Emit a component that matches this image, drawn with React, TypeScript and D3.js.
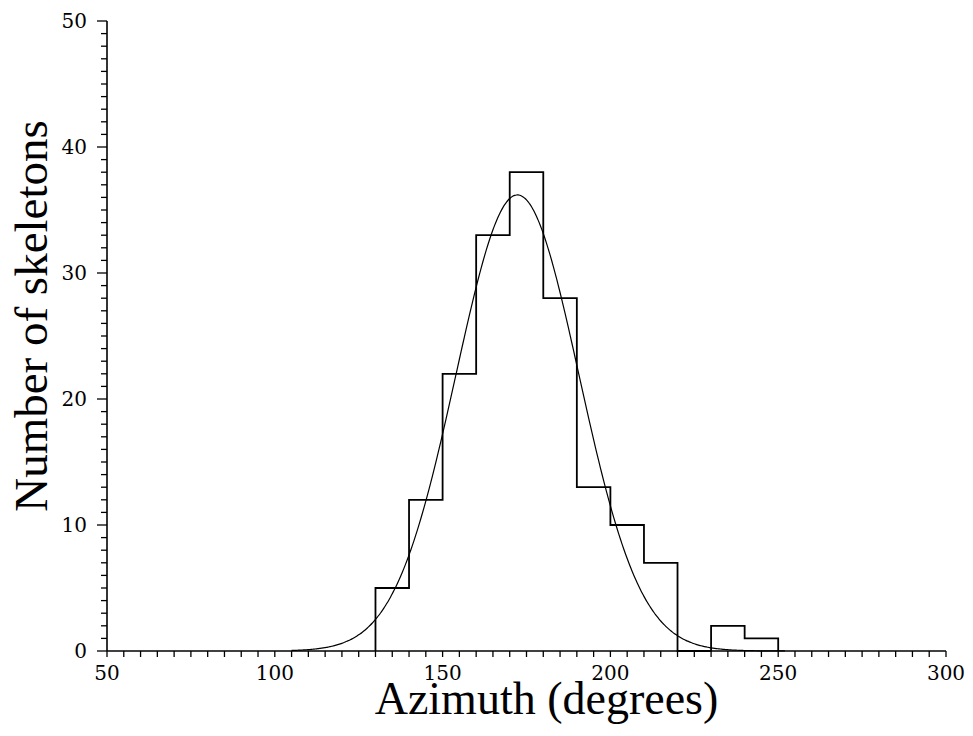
import React, { useEffect, useRef } from "react";
import * as d3 from "d3";

// Histogram bins (azimuth, degrees) and counts
const binStarts = [130, 140, 150, 160, 170, 180, 190, 200, 210, 220, 230, 240];
const binWidth = 10;
const counts = [5, 12, 22, 33, 38, 28, 13, 10, 7, 0, 2, 1];

// Fitted normal curve parameters
const fitMean = 172.3;
const fitSigma = 18.3;
const fitPeak = 36.2;
const fitRange = [105, 252];

const xTickLabels = [50, 100, 150, 200, 250, 300];
const yTickLabels = [0, 10, 20, 30, 40, 50];

const W = 973;
const H = 736;

export default function App() {
  const ref = useRef<SVGSVGElement | null>(null);

  useEffect(() => {
    const svg = d3.select(ref.current);
    svg.selectAll("*").remove();
    const x = d3.scaleLinear().domain([50, 300]).range([107, 946]);
    const y = d3.scaleLinear().domain([0, 50]).range([651, 21]);
    const titleFont = "'Liberation Serif', 'Times New Roman', serif";
    const tickFont = "'DejaVu Serif', serif";

    // X axis
    const gx = svg.append("g").attr("transform", `translate(0,${y(0)})`);
    gx.append("line").attr("x1", x(50)).attr("x2", x(300)).attr("stroke", "#000").attr("stroke-width", 1.6);
    const xMinor = d3.range(50, 301, 5);
    gx.selectAll("line.t").data(xMinor).enter().append("line")
      .attr("class", "t")
      .attr("x1", (d) => x(d)).attr("x2", (d) => x(d))
      .attr("y1", 0).attr("y2", 6)
      .attr("stroke", "#000").attr("stroke-width", 1.3);
    gx.selectAll("text").data(xTickLabels).enter().append("text")
      .attr("x", (d) => x(d)).attr("y", 29)
      .attr("text-anchor", "middle")
      .attr("font-family", tickFont).attr("font-size", 20)
      .text((d) => String(d));

    // Y axis
    const gy = svg.append("g").attr("transform", `translate(${x(50)},0)`);
    gy.append("line").attr("y1", y(0)).attr("y2", y(50)).attr("stroke", "#000").attr("stroke-width", 1.6);
    const yMinor = d3.range(0, 51, 1);
    gy.selectAll("line.t").data(yMinor).enter().append("line")
      .attr("class", "t")
      .attr("x1", 0).attr("x2", (d) => (d % 10 === 0 ? -10 : -6))
      .attr("y1", (d) => y(d)).attr("y2", (d) => y(d))
      .attr("stroke", "#000").attr("stroke-width", 1.3);
    gy.selectAll("text").data(yTickLabels).enter().append("text")
      .attr("x", -20).attr("y", (d) => y(d) + 7)
      .attr("text-anchor", "end")
      .attr("font-family", tickFont).attr("font-size", 20)
      .text((d) => String(d));

    // Histogram step outline
    const pts: [number, number][] = [[binStarts[0], 0]];
    binStarts.forEach((b, i) => {
      pts.push([b, counts[i]]);
      pts.push([b + binWidth, counts[i]]);
    });
    pts.push([binStarts[binStarts.length - 1] + binWidth, 0]);
    const line = d3.line<[number, number]>().x((d) => x(d[0])).y((d) => y(d[1]));
    svg.append("path").attr("d", line(pts)).attr("fill", "none")
      .attr("stroke", "#000").attr("stroke-width", 1.8);

    // Fitted curve
    const xs = d3.range(fitRange[0], fitRange[1] + 0.01, 0.5);
    const fit: [number, number][] = xs.map((v) => [
      v,
      fitPeak * Math.exp(-((v - fitMean) ** 2) / (2 * fitSigma * fitSigma)),
    ]);
    svg.append("path").attr("d", line.curve(d3.curveBasis)(fit)).attr("fill", "none")
      .attr("stroke", "#000").attr("stroke-width", 1.2);

    // Titles
    svg.append("text").attr("x", (x(50) + x(300)) / 2 + 20).attr("y", 714)
      .attr("text-anchor", "middle").attr("font-family", titleFont).attr("font-size", 46)
      .text("Azimuth (degrees)");
    svg.append("text").attr("transform", `translate(47,316) rotate(-90)`)
      .attr("text-anchor", "middle").attr("font-family", titleFont).attr("font-size", 47)
      .text("Number of skeletons");
  }, []);

  return (
    <svg ref={ref} width={W} height={H} style={{ position: "absolute", left: 0, top: 0, background: "#fff" }} />
  );
}
